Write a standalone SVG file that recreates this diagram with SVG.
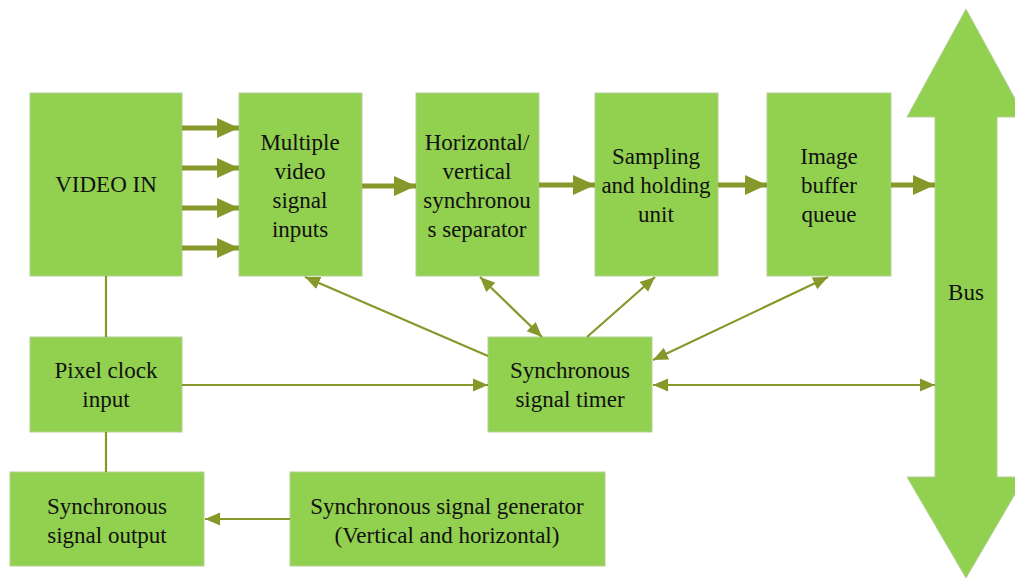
<svg xmlns="http://www.w3.org/2000/svg" width="1015" height="580" viewBox="0 0 1015 580">
<style>
.box{fill:#92d050;stroke:#b4cf95;stroke-width:1}
text{font-family:'Liberation Serif','DejaVu Serif',serif;font-size:23px;fill:#111;text-anchor:middle}
.thick{stroke:#86982a;stroke-width:5;fill:none}
.thin{stroke:#86982a;stroke-width:2.2;fill:none}
</style>
<defs>
<marker id="bh" markerUnits="userSpaceOnUse" markerWidth="24" markerHeight="24" viewBox="0 0 24 24" refX="22" refY="12" orient="auto">
<path d="M0,2 L22,12 L0,22 Z" fill="#86982a"/>
</marker>
<marker id="sh" markerUnits="userSpaceOnUse" markerWidth="16" markerHeight="16" viewBox="0 0 16 16" refX="15" refY="8" orient="auto-start-reverse">
<path d="M0,1.5 L15,8 L0,14.5 Z" fill="#86982a"/>
</marker>
</defs>
<g id="bus">
<path class="box" d="M966,9 L1025,117 L997,117 L997,477 L1025,477 L966,578 L907,477 L935,477 L935,117 L907,117 Z"/>
<text x="966" y="300" font-family="Liberation Serif, serif">Bus</text>
</g>
<g id="video-in">
<rect class="box" x="30" y="93" width="152" height="183"/>
<text x="106" y="192" font-family="Liberation Serif, serif">VIDEO IN</text>
</g>
<g id="multiple">
<rect class="box" x="239" y="93" width="123" height="183"/>
<text x="300" y="150" font-family="Liberation Serif, serif">Multiple</text>
<text x="300" y="179" font-family="Liberation Serif, serif">video</text>
<text x="300" y="208" font-family="Liberation Serif, serif">signal</text>
<text x="300" y="237" font-family="Liberation Serif, serif">inputs</text>
</g>
<g id="separator">
<rect class="box" x="416" y="93" width="123" height="183"/>
<text x="477" y="150" font-family="Liberation Serif, serif">Horizontal/</text>
<text x="477" y="179" font-family="Liberation Serif, serif">vertical</text>
<text x="477" y="208" font-family="Liberation Serif, serif">synchronou</text>
<text x="477" y="237" font-family="Liberation Serif, serif">s separator</text>
</g>
<g id="sampling">
<rect class="box" x="595" y="93" width="123" height="183"/>
<text x="656" y="164" font-family="Liberation Serif, serif">Sampling</text>
<text x="656" y="193" font-family="Liberation Serif, serif">and holding</text>
<text x="656" y="222" font-family="Liberation Serif, serif">unit</text>
</g>
<g id="buffer">
<rect class="box" x="767" y="93" width="124" height="183"/>
<text x="829" y="164" font-family="Liberation Serif, serif">Image</text>
<text x="829" y="193" font-family="Liberation Serif, serif">buffer</text>
<text x="829" y="222" font-family="Liberation Serif, serif">queue</text>
</g>
<g id="pixel-clock">
<rect class="box" x="30" y="337" width="152" height="95"/>
<text x="106" y="378" font-family="Liberation Serif, serif">Pixel clock</text>
<text x="106" y="407" font-family="Liberation Serif, serif">input</text>
</g>
<g id="timer">
<rect class="box" x="488" y="337" width="164" height="95"/>
<text x="570" y="378" font-family="Liberation Serif, serif">Synchronous</text>
<text x="570" y="407" font-family="Liberation Serif, serif">signal timer</text>
</g>
<g id="sync-output">
<rect class="box" x="10" y="472" width="194" height="94"/>
<text x="107" y="514" font-family="Liberation Serif, serif">Synchronous</text>
<text x="107" y="543" font-family="Liberation Serif, serif">signal output</text>
</g>
<g id="generator">
<rect class="box" x="290" y="472" width="315" height="94"/>
<text x="447" y="514" font-family="Liberation Serif, serif">Synchronous signal generator</text>
<text x="447" y="543" font-family="Liberation Serif, serif">(Vertical and horizontal)</text>
</g>
<g id="connectors">
<line class="thick" x1="182" y1="128" x2="239" y2="128" marker-end="url(#bh)"/>
<line class="thick" x1="182" y1="168" x2="239" y2="168" marker-end="url(#bh)"/>
<line class="thick" x1="182" y1="208" x2="239" y2="208" marker-end="url(#bh)"/>
<line class="thick" x1="182" y1="248" x2="239" y2="248" marker-end="url(#bh)"/>
<line class="thick" x1="362" y1="186" x2="416" y2="186" marker-end="url(#bh)"/>
<line class="thick" x1="539" y1="185" x2="595" y2="185" marker-end="url(#bh)"/>
<line class="thick" x1="718" y1="185" x2="767" y2="185" marker-end="url(#bh)"/>
<line class="thick" x1="891" y1="185" x2="935" y2="185" marker-end="url(#bh)"/>
<line class="thin" x1="106" y1="276" x2="106" y2="337"/>
<line class="thin" x1="106" y1="432" x2="106" y2="472"/>
<line class="thin" x1="182" y1="385" x2="488" y2="385" marker-end="url(#sh)"/>
<line class="thin" x1="653" y1="385" x2="935" y2="385" marker-start="url(#sh)" marker-end="url(#sh)"/>
<line class="thin" x1="290" y1="519" x2="205" y2="519" marker-end="url(#sh)"/>
<line class="thin" x1="488" y1="356" x2="305" y2="277" marker-end="url(#sh)"/>
<line class="thin" x1="480" y1="277" x2="542" y2="337" marker-start="url(#sh)" marker-end="url(#sh)"/>
<line class="thin" x1="587" y1="337" x2="655" y2="277" marker-end="url(#sh)"/>
<line class="thin" x1="828" y1="277" x2="653" y2="360" marker-start="url(#sh)" marker-end="url(#sh)"/>
</g>
</svg>
